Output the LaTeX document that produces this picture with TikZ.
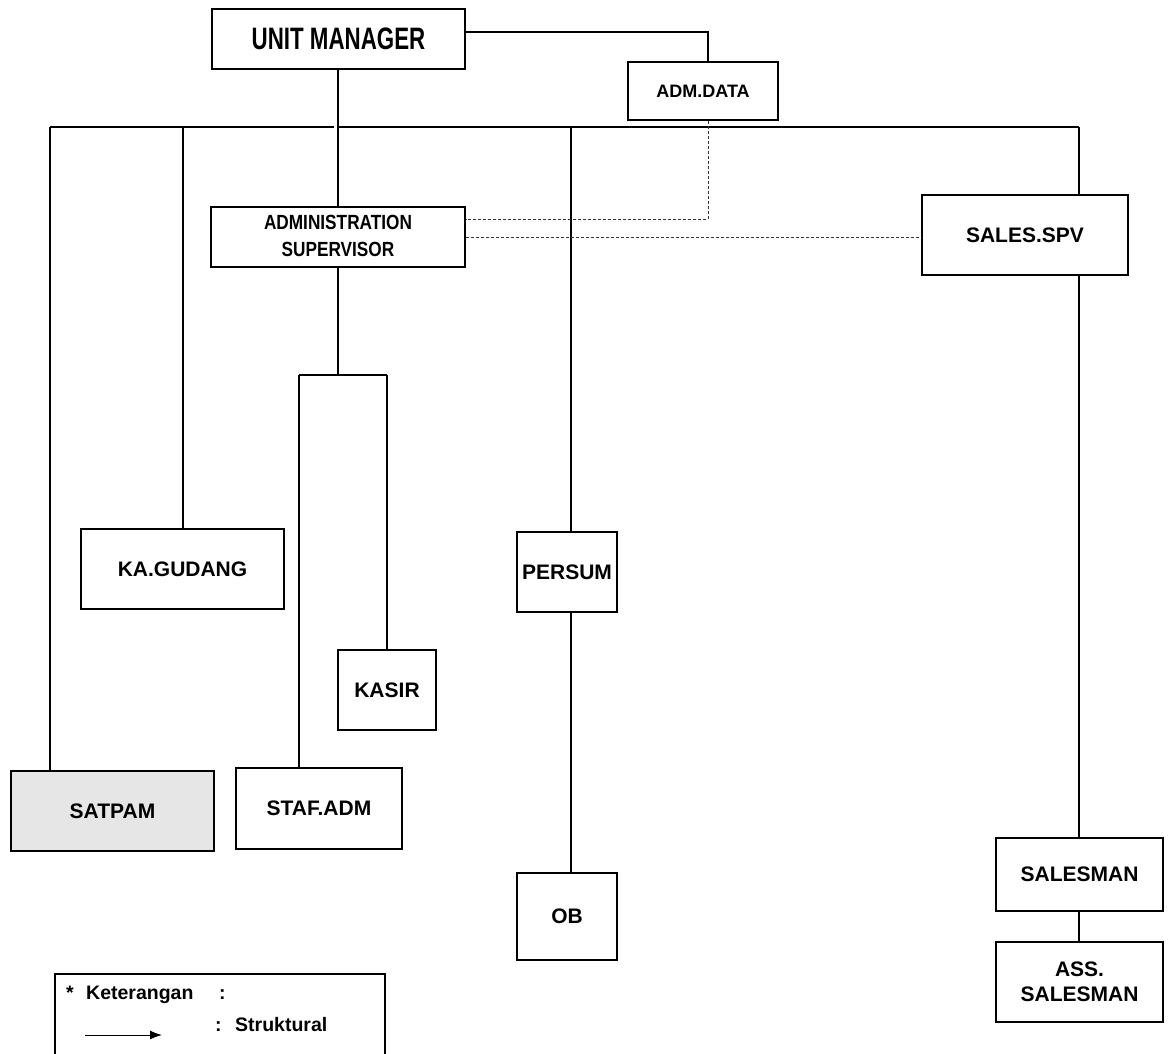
\documentclass[tikz,border=0pt]{standalone}
\usepackage{fontspec}
\setmainfont{Liberation Sans}
\usetikzlibrary{arrows.meta}
\definecolor{satgray}{HTML}{E6E6E6}
\begin{document}
\begin{tikzpicture}[x=1pt,y=-1pt,
  box/.style={draw, line width=1.8pt, rectangle, inner sep=0pt, align=center,
    font=\fontsize{21}{25}\selectfont\bfseries},
  conn/.style={line width=1.6pt},
  dashline/.style={line width=0.8pt, dash pattern=on 3pt off 2pt, draw=black!80},
  legtext/.style={anchor=base west, inner sep=0pt, font=\fontsize{19.5}{23}\selectfont\bfseries}]
\useasboundingbox (0,0) rectangle (1168,1053);

% nodes
\node[box, minimum width=253pt, minimum height=60pt] (um) at (338.5,39)
  {\scalebox{0.72}[1]{\fontsize{31}{36}\selectfont UNIT MANAGER}};
\node[box, minimum width=150pt, minimum height=58pt, font=\fontsize{18}{22}\selectfont\bfseries] (adm) at (703,91) {ADM.DATA};
\node[box, minimum width=254pt, minimum height=60pt] (as) at (338,237)
  {\scalebox{0.84}[1]{\fontsize{20.5}{28}\selectfont\bfseries\begin{tabular}{@{}c@{}}ADMINISTRATION\\[-1pt]SUPERVISOR\end{tabular}}};
\node[box, minimum width=206pt, minimum height=80pt] (sspv) at (1025,235) {SALES.SPV};
\node[box, minimum width=203pt, minimum height=80pt] (kg) at (182.5,569) {KA.GUDANG};
\node[box, minimum width=98pt, minimum height=80pt] (kasir) at (387,690) {KASIR};
\node[box, minimum width=203pt, minimum height=80pt, fill=satgray] (satpam) at (112.5,811) {SATPAM};
\node[box, minimum width=166pt, minimum height=81pt] (staf) at (319,808.5) {STAF.ADM};
\node[box, minimum width=100pt, minimum height=80pt] (persum) at (567,572) {PERSUM};
\node[box, minimum width=100pt, minimum height=87pt] (ob) at (567,916.5) {OB};
\node[box, minimum width=167pt, minimum height=73pt] (salesman) at (1079.5,874.5) {SALESMAN};
\node[box, minimum width=167pt, minimum height=80pt] (ass) at (1079.5,982) {ASS.\\SALESMAN};

% coordinates
\coordinate (k1) at (708,32);
\coordinate (busL) at (50,127);
\coordinate (busR) at (1079,127);
\coordinate (kgd) at (183,127);
\coordinate (pd) at (571,127);
\coordinate (skL) at (299,375);
\coordinate (skR) at (387,375);
\coordinate (dd) at (708,219);
\coordinate (de) at (465,237);
\coordinate (gapL) at (334,127);
\coordinate (gapR) at (337,127);

% connectors
\draw[conn] (um.east |- k1) -- (k1) -- (k1 |- adm.north);
\draw[conn] (busL) -- (gapL);
\draw[conn] (gapR) -- (busR);
\draw[conn] (busL) -- (busL |- satpam.north);
\draw[conn] (kgd) -- (kgd |- kg.north);
\draw[conn] (as.north |- um.south) -- (as.north);
\draw[conn] (busR) -- (busR |- sspv.north);
\draw[conn] (pd) -- (pd |- persum.north);
\draw[conn] (persum.south -| pd) -- (ob.north -| pd);
\draw[conn] (as.south) -- (as.south |- skL);
\draw[conn] (skL) -- (skR);
\draw[conn] (skL) -- (skL |- staf.north);
\draw[conn] (skR) -- (kasir.north);
\draw[conn] (sspv.south -| busR) -- (salesman.north -| busR);
\draw[conn] (salesman.south -| busR) -- (ass.north -| busR);

% dashed links
\draw[dashline] (adm.south -| dd) -- (dd) -- (as.east |- dd);
\draw[dashline] (as.east |- de) -- (sspv.west |- de);

% legend
\node[draw, line width=1.6pt, minimum width=330pt, minimum height=100pt, inner sep=0pt] (legend) at (220,1024) {};
\node[legtext] (star) at (66,999) {*};
\node[legtext] (ket) at (86,999) {Keterangan};
\node[legtext] (c1) at (219,999) {:};
\node[legtext] (c2) at (215,1031) {:};
\node[legtext] (struk) at (235,1031) {Struktural};
\coordinate (a1) at (85,1035);
\coordinate (a2) at (162,1035);
\draw[line width=1pt, -{Latex[length=12pt,width=9pt]}] (a1) -- (a2);
\end{tikzpicture}
\end{document}
